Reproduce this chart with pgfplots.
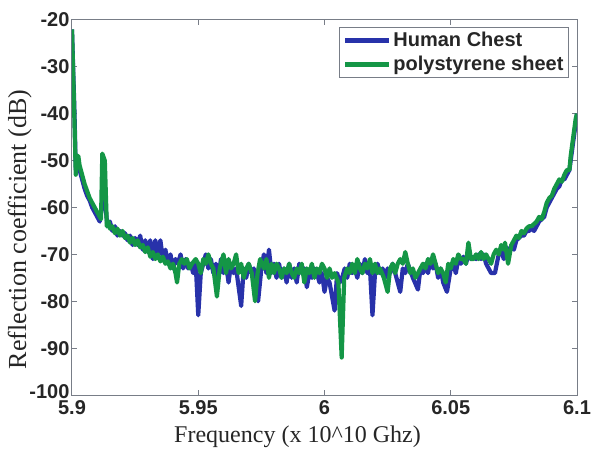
\documentclass[border=0pt]{standalone}
\usepackage{fontspec}
\setmainfont{Liberation Serif}
\setsansfont{Liberation Sans}
\usepackage{pgfplots}
\pgfplotsset{compat=1.18}
\definecolor{cblue}{RGB}{40,50,170}
\definecolor{cgreen}{RGB}{20,150,70}
\definecolor{axgray}{RGB}{120,125,135}
\begin{document}
\begin{tikzpicture}
\begin{axis}[name=ax,
  scale only axis, width=505pt, height=375pt,
  xmin=5.9, xmax=6.1, ymin=-100, ymax=-20,
  xtick={5.9,5.95,6,6.05,6.1}, xticklabels={5.9,5.95,6,6.05,6.1},
  ytick={-100,-90,-80,-70,-60,-50,-40,-30,-20},
  yticklabels={\raisebox{6pt}{-100},-90,-80,-70,-60,-50,-40,-30,-20},
  tick align=inside, tick pos=both, major tick length=5pt,
  axis line style={axgray, line width=1pt},
  every tick/.style={axgray, line width=1pt},
  tick label style={font=\sffamily\bfseries\fontsize{20}{20}\selectfont, text=black!85},
  xticklabel style={yshift=-2pt},
  yticklabel style={xshift=1pt},
  xlabel={Frequency (x 10\^{}10 Ghz)},
  ylabel={Reflection coefficient (dB)},
  xlabel style={font=\fontsize{24}{24}\selectfont, text=black!85, yshift=-4pt, xshift=-27pt},
  ylabel style={font=\fontsize{26}{26}\selectfont, text=black!85, yshift=-9pt, xshift=-22pt},
  legend style={at={(1,1)}, anchor=north east, xshift=-8pt, yshift=-7pt,
    font=\sffamily\bfseries\fontsize{20}{22}\selectfont, text=black!85,
    draw=axgray, line width=1pt, inner sep=3pt, row sep=4pt,
    legend cell align=left},
  legend image code/.code={\draw[#1, line width=4.5pt] (0cm,0cm) -- (44pt,0cm);},
]
\addplot[cblue, line width=4.2pt, line join=round] coordinates {
(5.9000,-22) (5.9010,-40) (5.9015,-52) (5.9020,-50) (5.9030,-52) (5.9040,-54)
(5.9050,-56) (5.9060,-57.5) (5.9070,-58.5) (5.9080,-60) (5.9090,-61) (5.9100,-62)
(5.9110,-63) (5.9125,-57) (5.9135,-61) (5.9140,-64) (5.9150,-63) (5.9160,-65)
(5.9170,-64) (5.9180,-66) (5.9190,-65) (5.9200,-66) (5.9210,-65.5) (5.9220,-67)
(5.9230,-66) (5.9240,-68) (5.9250,-66.5) (5.9260,-68) (5.9270,-66) (5.9280,-69)
(5.9290,-67) (5.9300,-69.5) (5.9310,-67) (5.9320,-71) (5.9330,-67) (5.9340,-70)
(5.9350,-67) (5.9360,-71) (5.9370,-69) (5.9380,-72) (5.9390,-70) (5.9400,-73)
(5.9410,-71) (5.9420,-72) (5.9430,-70) (5.9440,-73) (5.9450,-71) (5.9460,-73)
(5.9470,-72) (5.9480,-74) (5.9490,-72) (5.9500,-83) (5.9510,-74) (5.9520,-72)
(5.9530,-70) (5.9540,-73) (5.9550,-71) (5.9560,-74) (5.9570,-72) (5.9580,-75)
(5.9590,-71) (5.9600,-74) (5.9610,-72) (5.9620,-76) (5.9630,-72) (5.9640,-74)
(5.9650,-73) (5.9670,-81) (5.9680,-73) (5.9690,-75) (5.9700,-72) (5.9710,-74)
(5.9720,-73) (5.9737,-80) (5.9750,-73) (5.9760,-70) (5.9770,-74) (5.9780,-69)
(5.9790,-74) (5.9800,-72) (5.9810,-75) (5.9820,-72) (5.9830,-75) (5.9840,-73)
(5.9850,-76) (5.9860,-72) (5.9870,-75) (5.9880,-73) (5.9890,-76) (5.9900,-72)
(5.9910,-74) (5.9920,-73) (5.9930,-77) (5.9940,-74) (5.9950,-75) (5.9960,-73)
(5.9970,-74) (5.9980,-76) (5.9990,-74) (6.0000,-78) (6.0010,-75) (6.0020,-76)
(6.0040,-82) (6.0050,-74) (6.0060,-76) (6.0070,-75) (6.0080,-73) (6.0090,-75)
(6.0100,-72) (6.0110,-74) (6.0120,-73) (6.0130,-75) (6.0140,-72) (6.0150,-74)
(6.0160,-71) (6.0170,-74) (6.0180,-73) (6.0190,-83) (6.0200,-74) (6.0210,-72)
(6.0220,-74) (6.0230,-73) (6.0240,-75) (6.0250,-73) (6.0260,-74) (6.0270,-72)
(6.0280,-74) (6.0300,-78) (6.0310,-73) (6.0320,-74) (6.0330,-72) (6.0350,-75)
(6.0370,-77.5) (6.0380,-73) (6.0390,-74) (6.0400,-72) (6.0410,-74) (6.0420,-71)
(6.0430,-73) (6.0440,-72) (6.0450,-75) (6.0460,-73) (6.0470,-76) (6.0485,-78)
(6.0500,-73) (6.0510,-72) (6.0520,-74) (6.0530,-71) (6.0540,-72) (6.0550,-70.5)
(6.0560,-72) (6.0570,-70) (6.0580,-71) (6.0590,-70.5) (6.0600,-71) (6.0610,-70)
(6.0620,-71) (6.0630,-70) (6.0640,-72) (6.0660,-74) (6.0675,-74) (6.0690,-70)
(6.0700,-69) (6.0710,-71) (6.0720,-68.5) (6.0730,-70) (6.0740,-68) (6.0750,-69)
(6.0760,-67) (6.0770,-66.5) (6.0780,-66) (6.0790,-66) (6.0800,-65) (6.0810,-65)
(6.0820,-64.5) (6.0830,-65) (6.0840,-64) (6.0850,-63) (6.0860,-62.5) (6.0870,-62)
(6.0880,-60) (6.0890,-59) (6.0900,-58) (6.0910,-57) (6.0920,-56) (6.0930,-55.5)
(6.0940,-54) (6.0950,-54) (6.0960,-53) (6.0970,-52) (6.0975,-50) (6.0985,-46)
(6.0995,-42) (6.1000,-40)
};
\addlegendentry{Human Chest}
\addplot[cgreen, line width=4.2pt, line join=round] coordinates {
(5.9000,-22) (5.9008,-38) (5.9015,-53) (5.9020,-49) (5.9025,-49) (5.9030,-51)
(5.9040,-53) (5.9050,-55) (5.9060,-56.5) (5.9070,-58) (5.9080,-59) (5.9090,-60)
(5.9100,-61) (5.9110,-62) (5.9115,-62.5) (5.9120,-48.5) (5.9130,-50) (5.9138,-64)
(5.9145,-63) (5.9150,-64.5) (5.9160,-64) (5.9170,-65.5) (5.9180,-64.5) (5.9190,-66)
(5.9200,-65) (5.9210,-66.5) (5.9220,-66) (5.9230,-67.5) (5.9240,-66.5) (5.9250,-68)
(5.9260,-67) (5.9270,-68.5) (5.9280,-68) (5.9290,-69.5) (5.9300,-68.5) (5.9310,-70.5)
(5.9320,-69.5) (5.9330,-71) (5.9340,-70) (5.9350,-71.5) (5.9360,-70.5) (5.9370,-72)
(5.9380,-71.5) (5.9390,-73) (5.9400,-72) (5.9410,-74) (5.9416,-76) (5.9425,-72)
(5.9435,-71) (5.9445,-72) (5.9455,-71) (5.9465,-73) (5.9475,-72) (5.9490,-71)
(5.9500,-72) (5.9510,-74) (5.9520,-71) (5.9530,-72) (5.9540,-70) (5.9550,-72)
(5.9560,-73) (5.9574,-79) (5.9585,-73) (5.9600,-70) (5.9610,-74) (5.9620,-71)
(5.9630,-73) (5.9640,-72) (5.9650,-70) (5.9660,-74) (5.9670,-72) (5.9680,-75)
(5.9690,-73) (5.9700,-72) (5.9712,-74) (5.9725,-80) (5.9735,-74) (5.9745,-71)
(5.9760,-73) (5.9770,-71) (5.9780,-75) (5.9790,-72) (5.9800,-74) (5.9810,-72)
(5.9820,-73) (5.9830,-75) (5.9840,-73) (5.9850,-74) (5.9860,-72) (5.9870,-74)
(5.9880,-75) (5.9890,-73) (5.9900,-74) (5.9910,-72) (5.9920,-76) (5.9930,-73)
(5.9940,-74) (5.9950,-72) (5.9960,-75) (5.9970,-73) (5.9980,-74) (5.9990,-72)
(6.0000,-73) (6.0010,-75) (6.0020,-73) (6.0030,-75) (6.0040,-74) (6.0055,-76)
(6.0068,-92) (6.0078,-75) (6.0090,-73) (6.0100,-74) (6.0110,-72) (6.0120,-74)
(6.0130,-71) (6.0140,-73) (6.0150,-74) (6.0160,-72) (6.0170,-73) (6.0180,-71)
(6.0190,-74) (6.0200,-72) (6.0210,-74) (6.0220,-73) (6.0235,-75) (6.0250,-78)
(6.0260,-73) (6.0270,-72) (6.0280,-74) (6.0290,-72) (6.0300,-71) (6.0310,-72)
(6.0320,-69.5) (6.0330,-72) (6.0340,-74) (6.0350,-73) (6.0360,-75) (6.0370,-74)
(6.0380,-73) (6.0390,-72) (6.0400,-73) (6.0410,-71) (6.0420,-72) (6.0430,-70)
(6.0440,-72) (6.0450,-74) (6.0460,-73) (6.0470,-74) (6.0480,-76) (6.0490,-72)
(6.0500,-73) (6.0510,-71) (6.0520,-72) (6.0530,-70) (6.0540,-71) (6.0550,-71)
(6.0560,-72) (6.0570,-67.5) (6.0580,-71) (6.0590,-71) (6.0600,-70) (6.0610,-71)
(6.0620,-69.5) (6.0630,-71) (6.0640,-70) (6.0650,-71) (6.0660,-72) (6.0670,-70)
(6.0680,-69) (6.0690,-70) (6.0700,-68) (6.0710,-69) (6.0715,-67.5) (6.0727,-72)
(6.0740,-68) (6.0750,-67) (6.0760,-66) (6.0770,-66.5) (6.0780,-65) (6.0790,-65.5)
(6.0800,-64.5) (6.0810,-64) (6.0820,-64) (6.0830,-63.5) (6.0840,-63) (6.0850,-62)
(6.0860,-62.5) (6.0870,-61) (6.0880,-59) (6.0890,-58) (6.0900,-57.5) (6.0910,-56)
(6.0920,-55) (6.0930,-54) (6.0940,-54.5) (6.0950,-53) (6.0960,-52) (6.0970,-52)
(6.0975,-49) (6.0985,-45) (6.0995,-41) (6.1000,-40)
};
\addlegendentry{polystyrene sheet}
\end{axis}
\pgfresetboundingbox
\path[use as bounding box] ([xshift=-72pt,yshift=-58pt]ax.south west) rectangle ([xshift=15pt,yshift=20pt]ax.north east);
\end{tikzpicture}
\end{document}
